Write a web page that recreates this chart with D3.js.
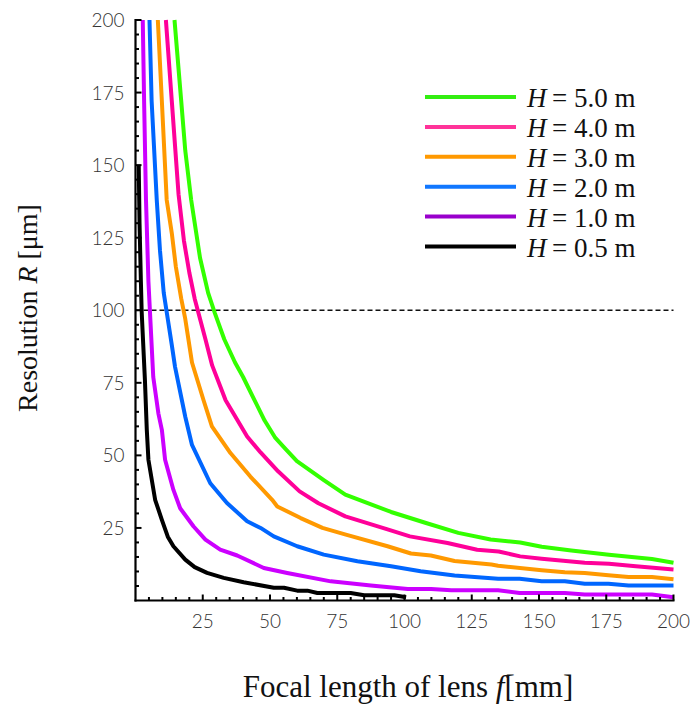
<!DOCTYPE html>
<html>
<head>
<meta charset="utf-8">
<script src="https://cdn.jsdelivr.net/npm/d3@7"></script>
<style>
  html, body { margin: 0; padding: 0; background: #fff; }
  .tick-lbl { font-family: "Lato", "Open Sans", sans-serif; font-weight: 300; font-size: 19px; fill: #333; }
  .serif { font-family: "Liberation Serif", "Times New Roman", serif; fill: #111; }
</style>
</head>
<body>
<div class="chart"></div>
<script>
// 刻度
var xTicks = [25, 50, 75, 100, 125, 150, 175, 200];
var yTicks = [25, 50, 75, 100, 125, 150, 175, 200];
var refLine = 100;

// 图例
var labels = ["5.0", "4.0", "3.0", "2.0", "1.0", "0.5"];
var lineColors = ["#33ff00", "#ff0099", "#ff9900", "#0066ff", "#cc00ff", "#000000"];
var legendColors = ["#33ee11", "#ff3399", "#ff9900", "#1177ff", "#9900cc", "#000000"];

// 曲线 [f, R]
var h50 = [[14.5,200],[17,172],[18.5,155],[20.7,138],[24,118],[27,106],[29.5,99],[33,90],[37,82],[40,77],[44,69.5],[48,62],[52,56],[56,52],[60,48],[70,41.5],[78,36.5],[95,30.5],[108,26.7],[120,23.3],[132,21],[143,20],[151,18.5],[162,17.2],[176,15.8],[192,14.3],[200,13]];
var h40 = [[11.3,200],[13.5,172],[16,140],[18,124],[20,113],[22,104],[24,97],[26,90],[28.5,81],[33.5,69],[41.5,56.5],[46.5,51],[53,44.5],[61,37.6],[68,33.5],[78,29],[94,24.4],[102,22.1],[116,19.8],[127,17.5],[135,16.9],[143,15.2],[151,14.4],[167,13],[176,12.7],[186,11.8],[200,10.7]];
var h30 = [[8.3,200],[9.8,172],[11.6,138],[13.5,126.5],[15,115],[17,104],[18.5,97],[19.5,91],[21,82],[25.3,69],[28.4,60],[35.3,50.8],[42.7,42.7],[50.8,34.7],[52.7,32.4],[61.4,28.4],[69.5,25],[78.2,22.7],[93.7,18.7],[102.4,16.2],[109.8,15.5],[118.6,13.6],[132.3,12.4],[134.8,12],[151,10.4],[159.6,9.7],[167,9.5],[175.8,8.7],[183.3,8.1],[192,8.1],[200,7.3]];
var h20 = [[5.2,200],[6,172],[7.9,138],[9.1,120.6],[10.5,106],[12,97],[13.5,88],[14.7,80.5],[18.5,63.3],[21,53.6],[27.8,40.4],[34,33.6],[41.5,27.3],[46.5,25],[51.4,22.1],[60.1,18.7],[70,15.8],[82.5,13.5],[95,11.8],[106,10.1],[118.6,8.6],[134.8,7.5],[142.8,7.5],[151,6.6],[159.6,6.6],[167,5.8],[175.8,5.8],[183.3,5.2],[200,5.2]];
var h10 = [[2.7,200],[3.2,172],[3.9,138],[4.8,110],[5.4,99],[6.6,77],[8.5,64.5],[9.8,58.8],[11,48.5],[14.1,38.1],[16.6,31.8],[21.6,25.5],[26,21],[31.5,17.5],[37.8,15.5],[47.7,11.2],[56.4,9.5],[72.6,6.6],[87.5,5.2],[101.2,4],[109.9,4],[117.4,3.5],[134.8,3.5],[142.8,2.6],[159.6,2.6],[167,2.1],[192,2.1],[200,1.1]];
var h05 = [[1.2,150],[1.5,130],[2,110],[2.3,99.4],[3.5,76],[4.2,58.8],[4.8,48.5],[7.3,34.7],[9.8,27.8],[12,22],[14.1,18.7],[18.5,14.1],[22,11.5],[26.6,9.5],[32.8,7.8],[40.2,6.3],[51.4,4.4],[55.2,4.4],[60.1,3.4],[63.9,3.4],[67.6,2.6],[80,2.6],[85,1.8],[96.2,1.8],[100.6,1.1]];
var series = [h50, h40, h30, h20, h10, h05];

var W = 691, H = 706;
var x = d3.scaleLinear().domain([0, 200]).range([135.5, 673.5]);
var y = d3.scaleLinear().domain([0, 200]).range([600.5, 20]);

var svg = d3.select(".chart").append("svg")
  .attr("width", W)
  .attr("height", H);

svg.append("defs").append("clipPath")
  .attr("id", "plot")
  .append("rect")
  .attr("x", 136).attr("y", 17).attr("width", 545).attr("height", 584);

// 参考虚线
svg.append("line")
  .attr("x1", x(0)).attr("x2", x(200))
  .attr("y1", y(refLine)).attr("y2", y(refLine))
  .attr("stroke", "#111").attr("stroke-width", 1.3)
  .attr("stroke-dasharray", "5,3");

// 曲线
var line = d3.line()
  .x(function(d){ return x(d[0]); })
  .y(function(d){ return y(d[1]); });

svg.append("g").attr("clip-path", "url(#plot)")
  .selectAll("path")
  .data(series)
  .enter().append("path")
  .attr("d", line)
  .attr("fill", "none")
  .attr("stroke", function(d, i){ return lineColors[i]; })
  .attr("stroke-width", 4)
  .attr("stroke-linejoin", "round");

// 坐标轴
var minor = d3.range(5, 201, 5);

var xAxis = svg.append("g").attr("transform", "translate(0," + y(0) + ")");
xAxis.append("line")
  .attr("x1", x(0) - 1).attr("x2", x(200) + 1)
  .attr("stroke", "#000").attr("stroke-width", 2.2);
xAxis.selectAll(".mt").data(minor).enter().append("line")
  .attr("x1", function(d){ return x(d); }).attr("x2", function(d){ return x(d); })
  .attr("y1", 0).attr("y2", function(d){ return d % 25 === 0 ? -6 : -3.5; })
  .attr("stroke", "#000").attr("stroke-width", 2);
xAxis.selectAll("text").data(xTicks).enter().append("text")
  .attr("class", "tick-lbl")
  .attr("x", function(d){ return x(d); })
  .attr("y", 27)
  .attr("text-anchor", "middle")
  .text(function(d){ return d; });

var yAxis = svg.append("g").attr("transform", "translate(" + x(0) + ",0)");
yAxis.append("line")
  .attr("y1", y(0) + 1).attr("y2", y(200) - 1)
  .attr("stroke", "#000").attr("stroke-width", 2.2);
yAxis.selectAll(".mt").data(minor).enter().append("line")
  .attr("y1", function(d){ return y(d); }).attr("y2", function(d){ return y(d); })
  .attr("x1", 0).attr("x2", function(d){ return d % 25 === 0 ? 6 : 3.5; })
  .attr("stroke", "#000").attr("stroke-width", 2);
yAxis.selectAll("text").data(yTicks).enter().append("text")
  .attr("class", "tick-lbl")
  .attr("x", -11)
  .attr("y", function(d){ return y(d) + 7; })
  .attr("text-anchor", "end")
  .text(function(d){ return d; });

// 轴标题
var xt = svg.append("text")
  .attr("class", "serif")
  .attr("x", 408).attr("y", 697)
  .attr("text-anchor", "middle")
  .attr("font-size", "31px");
xt.append("tspan").text("Focal length of lens ");
xt.append("tspan").attr("font-style", "italic").text("f");
xt.append("tspan").text("[mm]");

var yt = svg.append("text")
  .attr("class", "serif")
  .attr("transform", "translate(37,308) rotate(-90)")
  .attr("text-anchor", "middle")
  .attr("font-size", "28px");
yt.append("tspan").text("Resolution ");
yt.append("tspan").attr("font-style", "italic").text("R");
yt.append("tspan").text(" [μm]");

// 图例
var legend = svg.append("g").attr("transform", "translate(425,97)");
legend.selectAll("g").data(labels).enter().append("g")
  .attr("transform", function(d, i){ return "translate(0," + (i * 29.9) + ")"; })
  .each(function(d, i){
    var g = d3.select(this);
    g.append("line")
      .attr("x1", 0).attr("x2", 91)
      .attr("stroke", legendColors[i]).attr("stroke-width", 4);
    var t = g.append("text")
      .attr("class", "serif")
      .attr("x", 102).attr("y", 10)
      .attr("font-size", "27px");
    t.append("tspan").attr("font-style", "italic").text("H");
    t.append("tspan").attr("xml:space", "preserve").text("\u2009= " + d + " m");
  });
</script>
</body>
</html>
